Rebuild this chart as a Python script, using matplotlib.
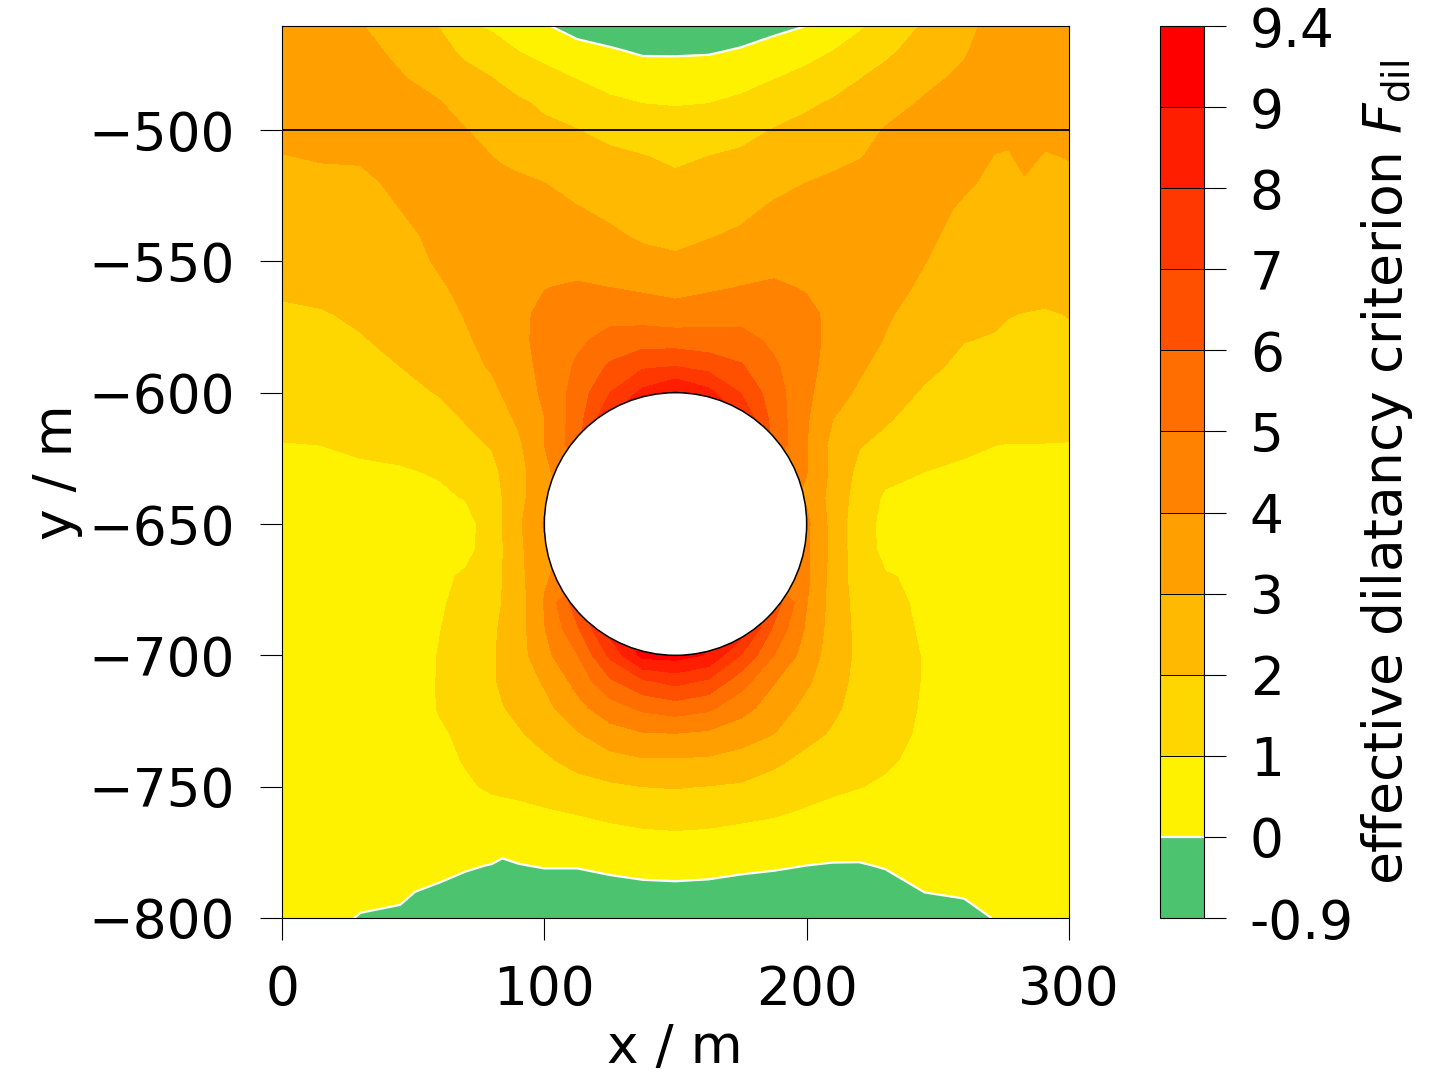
import numpy as np
import matplotlib
matplotlib.use("Agg")
from matplotlib import pyplot as plt
from matplotlib.patches import Circle

# positions of the sampled values (m)
x_m = [0, 15, 30, 45, 60, 70, 80, 84, 90, 100, 112.5, 125, 137.5, 150, 162.5, 175, 187.5, 200, 210, 220, 230, 245, 260,
       272, 277, 283, 291, 300]
y_m = [-460, -470, -480, -490, -500, -510, -520, -530, -540, -550, -560, -570, -580, -590, -600, -610, -620, -630,
       -640, -650, -660, -670, -680, -690, -700, -710, -720, -730, -740, -750, -760, -770, -780, -790, -800]

# F_dil, one list per x position, top to bottom
F_x000 = [3.5, 3.5, 3.45, 3.35, 3.2, 2.98, 2.8, 2.65, 2.5, 2.3, 2.1, 1.9, 1.75, 1.6, 1.45, 1.2, .97, .9,
          .85, .8, .76, .72, .68, .64, .6, .56, .52, .48, .44, .4, .35, .3, .25, .2, .15]
F_x015 = [3.6, 3.6, 3.55, 3.45, 3.3, 3.05, 2.85, 2.7, 2.55, 2.4, 2.2, 1.95, 1.8, 1.65, 1.45, 1.25, 1.0, .92,
          .86, .8, .75, .7, .66, .62, .58, .54, .5, .46, .42, .38, .33, .28, .22, .16, .1]
F_x030 = [3.03, 3.2, 3.35, 3.4, 3.35, 3.08, 2.85, 2.7, 2.6, 2.45, 2.3, 2.12, 1.95, 1.75, 1.55, 1.3, 1.05, .95,
          .88, .82, .76, .7, .65, .6, .55, .5, .46, .42, .38, .33, .28, .22, .15, .08, -.02]
F_x045 = [2.6, 2.85, 3.05, 3.2, 3.3, 3.25, 3.15, 3.0, 2.8, 2.65, 2.5, 2.35, 2.18, 2.0, 1.75, 1.55, 1.15, .95,
          .88, .82, .76, .7, .65, .6, .55, .5, .45, .4, .35, .3, .24, .18, .12, .05, -.05]
F_x060 = [1.95, 2.3, 2.7, 3.05, 3.25, 3.4, 3.35, 3.3, 3.2, 3.1, 2.9, 2.7, 2.55, 2.3, 2.05, 1.7, 1.4, 1.05,
          .9, .8, .78, .85, .92, .98, 1.03, 1.05, 1.05, .9, .8, .7, .55, .4, .15, -.08, -.4]
F_x070 = [1.1, 1.8, 2.3, 2.7, 3.02, 3.15, 3.3, 3.4, 3.35, 3.3, 3.2, 3.05, 2.9, 2.7, 2.35, 2.05, 1.8, 1.4,
          1.03, .75, .8, 1.1, 1.2, 1.25, 1.3, 1.3, 1.25, 1.15, 1.05, .9, .6, .35, .06, -.2, -.6]
F_x080 = [.85, 1.4, 2.0, 2.45, 2.75, 3.0, 3.25, 3.45, 3.55, 3.6, 3.5, 3.4, 3.25, 3.1, 2.75, 2.35, 2.05, 1.8,
          1.55, 1.35, 1.35, 1.55, 1.7, 1.85, 1.9, 1.9, 1.8, 1.65, 1.4, 1.1, .75, .35, -.02, -.5, -.7]
F_x084 = [.68, 1.25, 1.85, 2.33, 2.63, 2.9, 3.2, 3.43, 3.57, 3.66, 3.65, 3.58, 3.48, 3.33, 3.05, 2.67, 2.35, 2.1,
          2.0, 2.0, 1.95, 2.0, 2.02, 2.12, 2.15, 2.12, 1.96, 1.75, 1.48, 1.14, .77, .32, -.12, -.5, -.7]
F_x090 = [.4, 1.0, 1.6, 2.15, 2.45, 2.75, 3.15, 3.4, 3.6, 3.75, 3.85, 3.85, 3.8, 3.7, 3.5, 3.15, 2.8, 2.55,
          2.65, 2.8, 2.75, 2.65, 2.5, 2.55, 2.55, 2.45, 2.2, 1.9, 1.6, 1.2, .8, .4, -.03, -.45, -.7]
F_x100 = [.05, .75, 1.25, 1.85, 2.2, 2.6, 3.0, 3.3, 3.55, 3.75, 3.98, 4.15, 4.25, 4.2, 4.15, 3.98, 4.0, 3.9,
          3.8, 4.1, 3.85, 3.9, 4.05, 3.95, 3.7, 3.1, 2.7, 2.3, 1.85, 1.35, .9, .45, .05, -.4, -.7]
F_x112 = [-.35, .3, .95, 1.5, 2.02, 2.35, 2.65, 3.05, 3.35, 3.7, 4.1, 4.4, 4.8, 5.15, 5.4, 5.5, 5.6, 4.4,
          4.2, 4.2, 4.2, 4.5, 6.6, 5.85, 4.95, 4.3, 3.7, 2.9, 2.3, 1.65, 1.03, .55, .05, -.4, -.7]
F_x125 = [-.5, .1, .6, 1.2, 1.7, 2.2, 2.5, 2.8, 3.15, 3.55, 4.0, 4.65, 5.35, 6.15, 7.0, 8.0, 9, 9,
          9, 9, 9, 9, 9, 8.4, 7.2, 5.8, 4.55, 3.6, 2.65, 1.85, 1.2, .65, .2, -.35, -.7]
F_x137 = [-.7, -.1, .45, 1.0, 1.5, 2.03, 2.3, 2.6, 2.85, 3.3, 3.85, 4.55, 5.55, 6.85, 8.25, 9.2, 9.39, 9.39,
          9.39, 9.39, 9.39, 9.39, 9.39, 9.39, 9.3, 6.8, 5.2, 3.9, 2.9, 2.0, 1.35, .75, .3, -.25, -.7]
F_x150 = [-.7, -.1, .42, .95, 1.4, 1.82, 2.2, 2.5, 2.78, 3.13, 3.68, 4.4, 5.5, 7.0, 9.1, 9.39, 9.39, 9.39,
          9.39, 9.39, 9.39, 9.39, 9.39, 9.39, 9.39, 7.3, 5.5, 3.95, 2.9, 2.05, 1.4, .8, .3, -.2, -.7]
F_x162 = [-.65, -.08, .5, 1.0, 1.5, 2.0, 2.4, 2.65, 2.92, 3.4, 3.85, 4.6, 5.4, 6.65, 8.3, 9, 9.39, 9.39,
          9.39, 9.39, 9.39, 9.39, 9.39, 9.39, 8.9, 6.8, 5.2, 3.8, 2.85, 1.97, 1.35, .75, .28, -.25, -.7]
F_x175 = [-.45, .08, .65, 1.2, 1.7, 2.15, 2.45, 2.75, 3.15, 3.55, 4.03, 4.65, 5.35, 6.1, 6.95, 8, 9, 9,
          9, 9, 9, 9, 9, 8.6, 6.95, 5.4, 4.35, 3.45, 2.6, 1.88, 1.22, .65, .18, -.35, -.7]
F_x187 = [-.25, .35, .95, 1.5, 2.04, 2.35, 2.7, 3.15, 3.5, 3.8, 4.1, 4.45, 4.8, 5.15, 5.45, 5.6, 5.7, 4.5,
          4.3, 4.3, 4.3, 4.5, 6.6, 5.8, 5.0, 4.05, 3.55, 3.0, 2.2, 1.6, 1.08, .6, .1, -.4, -.7]
F_x200 = [-.02, .7, 1.25, 1.85, 2.3, 2.6, 3.0, 3.25, 3.5, 3.7, 3.95, 4.15, 4.3, 4.3, 4.2, 4.1, 4.02, 4.02,
          3.9, 4.2, 4.15, 4.2, 4.03, 3.85, 3.55, 3.15, 2.7, 2.25, 1.75, 1.3, .9, .45, .0, -.45, -.7]
F_x210 = [.45, 1.0, 1.55, 2.12, 2.5, 2.85, 3.1, 3.35, 3.55, 3.75, 3.85, 3.85, 3.75, 3.6, 3.4, 3.0, 2.7, 2.75,
          2.6, 2.65, 2.7, 2.6, 2.6, 2.55, 2.5, 2.35, 2.15, 1.9, 1.55, 1.15, .75, .4, -.05, -.45, -.7]
F_x220 = [.85, 1.4, 1.95, 2.4, 2.7, 2.97, 3.2, 3.45, 3.6, 3.7, 3.7, 3.6, 3.4, 3.15, 2.85, 2.45, 2.05, 1.75,
          1.6, 1.4, 1.4, 1.5, 1.65, 1.75, 1.8, 1.75, 1.7, 1.5, 1.25, 1.02, .7, .35, -.05, -.5, -.7]
F_x230 = [1.3, 1.8, 2.3, 2.7, 3.05, 3.15, 3.35, 3.45, 3.45, 3.4, 3.3, 3.1, 2.95, 2.65, 2.4, 2.1, 1.75, 1.3,
          .85, .75, .8, 1.05, 1.15, 1.2, 1.3, 1.3, 1.25, 1.2, 1.1, .9, .6, .3, .05, -.3, -.6]
F_x245 = [2.1, 2.45, 2.8, 3.1, 3.25, 3.35, 3.3, 3.25, 3.15, 3.02, 2.85, 2.65, 2.45, 2.2, 1.9, 1.6, 1.3, 1.0,
          .92, .88, .88, .88, .9, .93, .96, .96, .94, .9, .8, .65, .55, .4, .2, .01, -.35]
F_x260 = [2.6, 2.92, 3.15, 3.25, 3.25, 3.2, 3.1, 2.9, 2.75, 2.55, 2.4, 2.2, 2.02, 1.8, 1.55, 1.3, 1.08, .92,
          .88, .84, .8, .78, .76, .74, .72, .7, .66, .62, .55, .48, .4, .3, .2, .07, -.2]
F_x272 = [3.45, 3.45, 3.45, 3.35, 3.15, 2.98, 2.85, 2.7, 2.55, 2.45, 2.3, 2.1, 1.95, 1.7, 1.5, 1.25, 1.0, .9,
          .85, .8, .78, .75, .72, .68, .65, .62, .58, .55, .5, .43, .36, .28, .2, .1, .03]
F_x277 = [3.5, 3.5, 3.45, 3.35, 3.15, 2.95, 2.88, 2.75, 2.6, 2.45, 2.25, 2.03, 1.85, 1.65, 1.45, 1.25, .98, .9,
          .85, .8, .76, .72, .68, .64, .6, .56, .52, .48, .44, .4, .35, .3, .24, .17, .1]
F_x283 = [3.55, 3.55, 3.5, 3.4, 3.3, 3.15, 2.95, 2.8, 2.65, 2.5, 2.3, 1.98, 1.85, 1.65, 1.45, 1.25, .98, .9,
          .85, .8, .76, .72, .68, .64, .6, .56, .52, .48, .44, .4, .35, .3, .24, .17, .1]
F_x291 = [3.55, 3.55, 3.5, 3.4, 3.2, 2.95, 2.85, 2.7, 2.55, 2.4, 2.25, 1.93, 1.85, 1.65, 1.45, 1.22, .98, .9,
          .85, .8, .76, .72, .68, .64, .6, .56, .52, .48, .44, .4, .35, .3, .25, .18, .12]
F_x300 = [3.6, 3.6, 3.55, 3.45, 3.3, 3.03, 2.85, 2.7, 2.55, 2.4, 2.2, 2.03, 1.85, 1.65, 1.45, 1.2, .97, .9,
          .85, .8, .76, .72, .68, .64, .6, .56, .52, .48, .44, .4, .35, .3, .25, .2, .15]

levels = [-0.9, 0, 1, 2, 3, 4, 5, 6, 7, 8, 9, 9.4]
level_labels = ["-0.9", "0", "1", "2", "3", "4", "5", "6", "7", "8", "9", "9.4"]
band_colors = ["#4CC46F", "#FFF200", "#FFD700", "#FFB900", "#FFA000", "#FF8200",
               "#FF6E00", "#FF5000", "#FF3700", "#FF1E00", "#FF0000"]

F = np.column_stack([F_x000, F_x015, F_x030, F_x045, F_x060, F_x070, F_x080, F_x084, F_x090, F_x100, F_x112, F_x125,
                     F_x137, F_x150, F_x162, F_x175, F_x187, F_x200, F_x210, F_x220, F_x230, F_x245, F_x260,
                     F_x272, F_x277, F_x283, F_x291, F_x300])

W, H = 1447, 1080
plt.rcParams["font.family"] = "DejaVu Sans"
plt.rcParams["font.size"] = 38.4
plt.rcParams["mathtext.fontset"] = "dejavusans"

fig = plt.figure(figsize=(W / 100, H / 100), dpi=100)
ax = fig.add_axes([282 / W, 1 - 918 / H, 787 / W, 892 / H])
cax = fig.add_axes([1159.5 / W, 1 - 918 / H, 44.5 / W, 892 / H])

cf = ax.contourf(x_m, y_m, F, levels=levels, colors=band_colors)
zero_line = ax.contour(x_m, y_m, F, levels=[0], colors="white", linewidths=1.6)

ax.axhline(-500, color="black", lw=1.3)
ax.add_patch(Circle((150, -650), 50, facecolor="white", edgecolor="black", lw=1.1, zorder=5))

ax.set_xlim(0, 300)
ax.set_ylim(-800, -460.4)
ax.set_xticks([0, 100, 200, 300])
ax.set_yticks([-800, -750, -700, -650, -600, -550, -500])
ax.tick_params(axis="both", length=16, width=0.8)
ax.tick_params(axis="x", pad=17)
ax.tick_params(axis="y", pad=18)
ax.set_xlabel("x / m", labelpad=0)
ax.set_ylabel("y / m", labelpad=0)
ax.xaxis.set_label_coords((675 - 282) / 787, -(1048 - 918) / 892, transform=ax.transAxes)
ax.xaxis.label.set_va("center")
ax.yaxis.set_label_coords((57 - 282) / 787, 0.5, transform=ax.transAxes)
ax.yaxis.label.set_va("center")
for s in ax.spines.values():
    s.set_linewidth(0.8)

cb = fig.colorbar(cf, cax=cax, spacing="uniform", ticks=levels, drawedges=True)
cb.ax.set_yticklabels(level_labels)
cb.dividers.set_color("black")
cb.dividers.set_linewidth(0.7)
cb.add_lines(zero_line, erase=False)
cb.ax.minorticks_off()
cb.ax.tick_params(axis="y", length=16, width=0.8, pad=17)
cb.outline.set_linewidth(0.8)
cb.set_label(r"effective dilatancy criterion $F_{\mathrm{dil}}$")
cb.ax.yaxis.set_label_coords((1385 - 1160) / 44, 0.5, transform=cb.ax.transAxes)
cb.ax.yaxis.label.set_va("center")

fig.savefig("out.png", dpi=100)
